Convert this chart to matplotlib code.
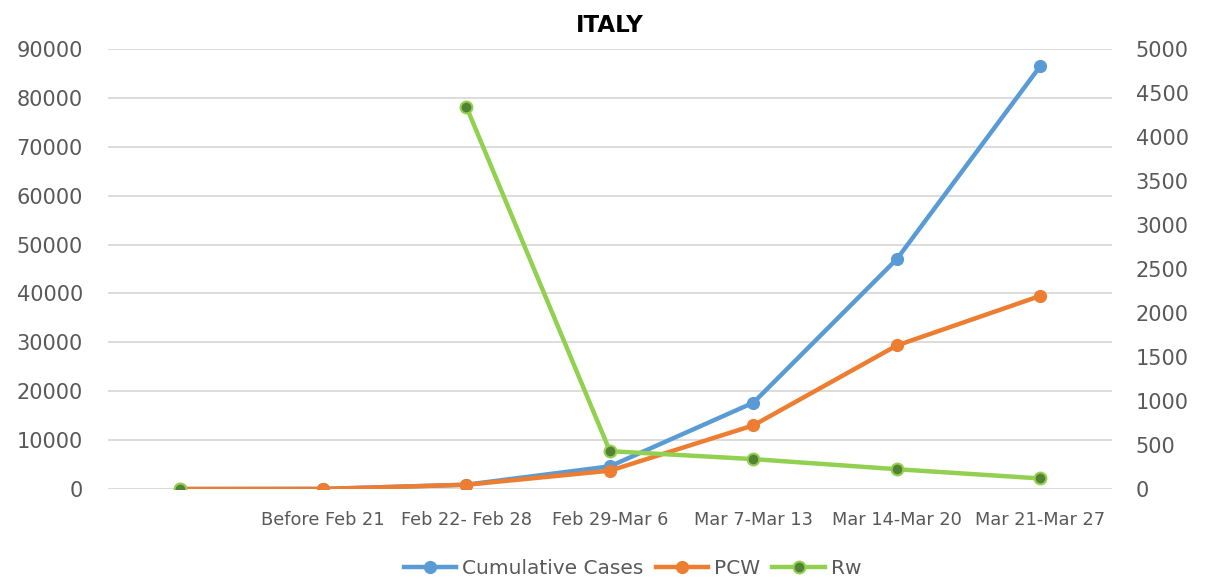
import numpy as np
import matplotlib.pyplot as plt

# weekly categories (first one has no label)
weeks = ['', 'Before Feb 21', 'Feb 22- Feb 28', 'Feb 29-Mar 6',
         'Mar 7-Mar 13', 'Mar 14-Mar 20', 'Mar 21-Mar 27']
cumulative = [0, 20, 890, 4640, 17660, 47020, 86500]
pcw = [0, 20, 870, 3750, 13020, 29360, 39500]
rw = [0, np.nan, 4340, 430, 340, 225, 120]

blue = '#5B9BD5'
orange = '#ED7D31'
green = '#92D050'
grey = '#595959'

fig = plt.figure(figsize=(12.12, 5.79), dpi=100)
ax = fig.add_axes([0.089, 0.1554, 0.8285, 0.76])
ax2 = ax.twinx()

x = np.arange(len(weeks))
ax.plot(x, cumulative, color=blue, lw=3.2, marker='o', ms=8.5, label='Cumulative Cases')
ax.plot(x, pcw, color=orange, lw=3.2, marker='o', ms=8.5, label='PCW')
ax2.plot(x, rw, color=green, lw=3.2, marker='o', ms=8.5, mfc='#548235',
         mec=green, mew=1.5, label='Rw')

ax.set_xlim(-0.5, len(weeks) - 0.5)
ax.set_ylim(0, 90000)
ax2.set_ylim(0, 5000)
ax.set_yticks(np.arange(0, 90001, 10000))
ax2.set_yticks(np.arange(0, 5001, 500))
ax.set_xticks(x)
ax.set_xticklabels(weeks, fontsize=12.8, color=grey)
ax.tick_params(axis='y', labelsize=15, colors=grey, length=0, pad=18)
ax2.tick_params(axis='y', labelsize=15, colors=grey, length=0, pad=17)
ax.tick_params(axis='x', length=0, pad=16)

ax.grid(axis='y', color='#D9D9D9', lw=1.3)
ax.set_axisbelow(True)
for a in (ax, ax2):
    for s in a.spines.values():
        s.set_visible(False)

ax.set_title('ITALY', fontsize=16.5, fontweight='bold', color='black', pad=12)

h1, l1 = ax.get_legend_handles_labels()
h2, l2 = ax2.get_legend_handles_labels()
fig.legend(h1 + h2, l1 + l2, loc='lower center', ncol=3, frameon=False,
           fontsize=14.5, labelcolor=grey, bbox_to_anchor=(0.522, -0.03),
           handlelength=2.6, columnspacing=0.6, handletextpad=0.3)

fig.savefig('out.png', dpi=100)
